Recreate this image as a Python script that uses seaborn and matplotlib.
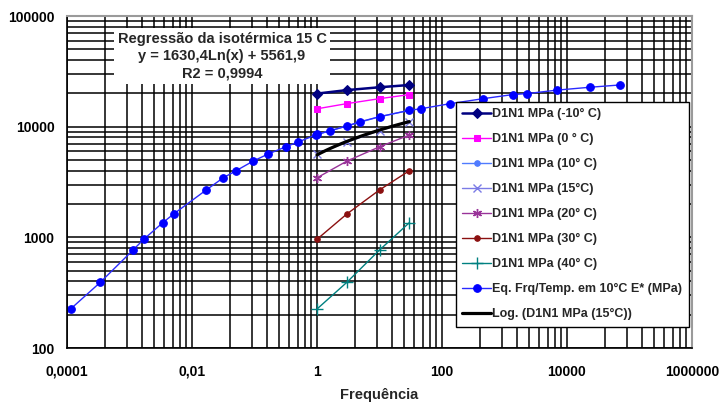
import numpy as np
import pandas as pd
import matplotlib
matplotlib.use("Agg")
import matplotlib.pyplot as plt
from matplotlib.ticker import FixedLocator, NullFormatter
import seaborn as sns

# Test frequencies (Hz) of each isotherm
freq = [1, 3, 10, 30]

# Dynamic modulus |E*| (MPa) per test temperature
e_m10 = [19900, 21400, 22700, 23800]
e_0 = [14500, 16150, 17900, 19500]
e_10 = [8500, 10140, 12300, 14050]
e_15 = [5650, 7250, 9200, 11100]
e_20 = [3450, 4880, 6580, 8400]
e_30 = [960, 1625, 2680, 4000]
e_40 = [225, 392, 768, 1356]

# Master curve at 10 °C (reduced frequency, modulus)
master_freq = [1.14e-4, 3.41e-4, 1.14e-3, 1.69e-3, 3.41e-3, 5.08e-3, 1.69e-2,
               3.16e-2, 5.08e-2, 9.48e-2, 0.164, 0.316, 0.493, 0.948,
               1, 1.64, 3, 4.93, 10, 30, 45.3, 136, 453, 1359,
               2317, 6951, 23170, 69510]
master_e = [225, 392, 768, 960, 1356, 1625, 2680,
            3450, 4000, 4880, 5650, 6580, 7250, 8400,
            8500, 9200, 10140, 11100, 12300, 14050, 14500, 16150, 17900, 19500,
            19900, 21400, 22700, 23800]

# Logarithmic trendline of the 15 °C isotherm
trend_a = 1630.4
trend_b = 5561.9
trend_range = (1, 30)

x_ticks = [1e-4, 1e-2, 1, 1e2, 1e4, 1e6]
x_tick_labels = ["0,0001", "0,01", "1", "100", "10000", "1000000"]
y_ticks = [100, 1000, 10000, 100000]
y_tick_labels = ["100", "1000", "10000", "100000"]

sns.set_style("white")
plt.rcParams["font.family"] = ["Liberation Sans", "DejaVu Sans"]
plt.rcParams["font.weight"] = "bold"

fig = plt.figure(figsize=(7.22, 4.03), dpi=100)
ax = fig.add_axes([67 / 722, 1 - 348 / 403, 625 / 722, 332 / 403])
ax.set_xscale("log")
ax.set_yscale("log")

series = [
    ("D1N1 MPa (-10° C)", e_m10, dict(color="#000080", marker="D", ms=5, lw=1.8)),
    ("D1N1 MPa (0 ° C)", e_0, dict(color="#FF00FF", marker="s", ms=5, lw=1.0)),
    ("D1N1 MPa (10° C)", e_10, dict(color="#4F7BFF", marker="o", ms=4, lw=1.0)),
    ("D1N1 MPa (15°C)", e_15, dict(color="#7B7BE6", marker="x", ms=5.5, lw=1.0, mew=1.0)),
    ("D1N1 MPa (20° C)", e_20, dict(color="#993399", marker=(6, 2, 0), ms=6.5, lw=1.0, mew=1.0)),
    ("D1N1 MPa (30° C)", e_30, dict(color="#8B1010", marker="o", ms=4, lw=1.0)),
    ("D1N1 MPa (40° C)", e_40, dict(color="#008080", marker="+", ms=8, lw=1.0, mew=1.0)),
]

for label, values, style in series:
    df = pd.DataFrame({"f": freq, "E": values})
    color = style.pop("color")
    sns.lineplot(data=df, x="f", y="E", ax=ax, sort=False, estimator=None,
                 color=color, markeredgecolor=color, markerfacecolor=color,
                 label=label, **style)

df_master = pd.DataFrame({"f": master_freq, "E": master_e})
sns.lineplot(data=df_master, x="f", y="E", ax=ax, sort=False, estimator=None,
             color="#2A2AFF", lw=1.0, marker="o", ms=5.5,
             markeredgecolor="#0000FF", markerfacecolor="#0000FF",
             label="Eq. Frq/Temp. em 10°C E* (MPa)")

f_trend = np.geomspace(trend_range[0], trend_range[1], 60)
df_trend = pd.DataFrame({"f": f_trend, "E": trend_a * np.log(f_trend) + trend_b})
sns.lineplot(data=df_trend, x="f", y="E", ax=ax, sort=False, estimator=None,
             color="black", lw=2.3, label="Log. (D1N1 MPa (15°C))")

ax.set_xlim(1e-4, 1e6)
ax.set_ylim(100, 1e5)

# x axis: labelled every two decades, minor lines at k^2 multiples
x_minor = [k ** 2 * 100.0 ** n for n in range(-2, 3) for k in range(2, 10)]
ax.xaxis.set_major_locator(FixedLocator(x_ticks))
ax.xaxis.set_minor_locator(FixedLocator(x_minor))
ax.set_xticklabels(x_tick_labels)
ax.xaxis.set_minor_formatter(NullFormatter())

y_minor = [k * 10.0 ** n for n in range(2, 5) for k in range(2, 10)]
ax.yaxis.set_major_locator(FixedLocator(y_ticks))
ax.yaxis.set_minor_locator(FixedLocator(y_minor))
ax.set_yticklabels(y_tick_labels)
ax.yaxis.set_minor_formatter(NullFormatter())

ax.set_axisbelow(True)
ax.grid(True, which="both", color="black", lw=1.1)

ax.tick_params(which="major", direction="out", length=5, width=1.1, color="black",
               labelsize=10, labelcolor="black")
ax.tick_params(axis="x", which="major", pad=7)
ax.tick_params(axis="y", which="major", pad=4)
ax.tick_params(which="minor", length=0)
for t in ax.get_xticklabels() + ax.get_yticklabels():
    t.set_fontweight("bold")

for side in ("left", "bottom"):
    ax.spines[side].set_color("black")
    ax.spines[side].set_linewidth(1.2)
for side in ("top", "right"):
    ax.spines[side].set_color("#9A9A9A")
    ax.spines[side].set_linewidth(1.5)

ax.set_xlabel("Frequência", fontsize=10.5, fontweight="bold", labelpad=7)
ax.set_ylabel("")

leg = ax.legend(loc="upper left", bbox_to_anchor=(0.6224, 0.741), borderaxespad=0,
                frameon=True, fancybox=False, framealpha=1, edgecolor="black",
                prop={"size": 9, "weight": "bold"}, labelspacing=1.04,
                handlelength=2.3, handletextpad=0.1, borderpad=0.5, numpoints=1)
leg.get_frame().set_linewidth(1.0)

ax.text(0.248, 0.8795,
        "Regressão da isotérmica 15 C\ny = 1630,4Ln(x) + 5561,9\nR2 = 0,9994",
        transform=ax.transAxes, ha="center", va="center", fontsize=10.5,
        fontweight="bold", linespacing=1.3, zorder=6,
        bbox=dict(boxstyle="square,pad=0.25", facecolor="white", edgecolor="none"))

fig.savefig("out.png", dpi=100, facecolor="white")
